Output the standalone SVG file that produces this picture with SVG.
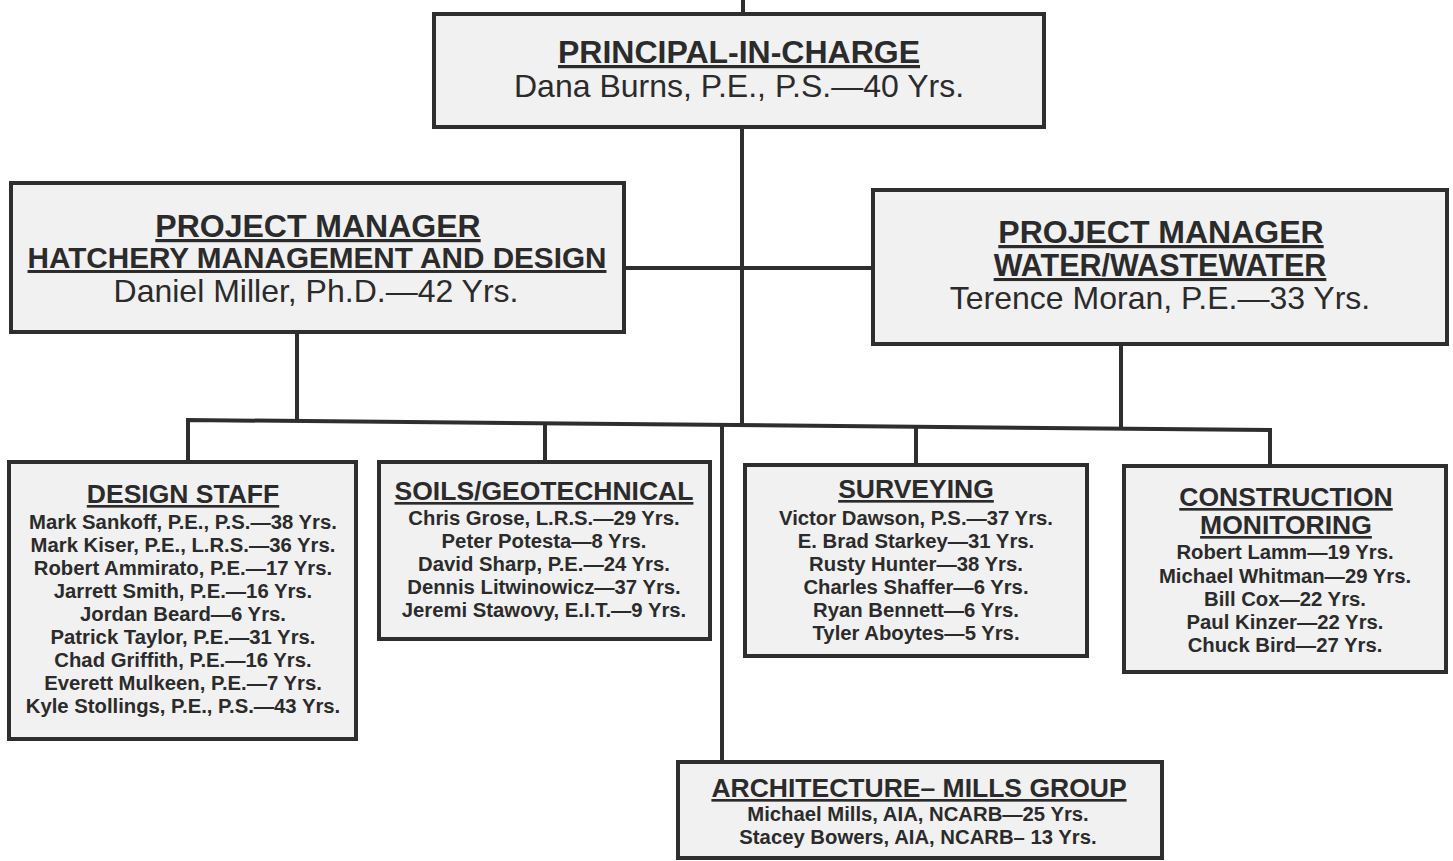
<svg xmlns="http://www.w3.org/2000/svg" width="1453" height="861" viewBox="0 0 1453 861">
<style>
.box{fill:#f1f1f1;stroke:#2e2e2e;stroke-width:4}
.ln{stroke:#2e2e2e;stroke-width:4;fill:none}
text{font-family:"Liberation Sans",Arial,sans-serif;fill:#2b2b2b;text-anchor:middle}
.h1{font-size:32px;font-weight:bold;text-decoration:underline}
.n1{font-size:32px}
.h3{font-size:26.5px;font-weight:bold;text-decoration:underline}
.s{font-size:20.3px;font-weight:bold}
</style>
<rect width="1453" height="861" fill="#ffffff"/>
<g id="connectors">
<line class="ln" x1="743" y1="0" x2="743" y2="14"/>
<line class="ln" x1="742" y1="126" x2="742" y2="426"/>
<line class="ln" x1="623" y1="268" x2="874" y2="268"/>
<line class="ln" x1="297" y1="331" x2="297" y2="421"/>
<line class="ln" x1="1121" y1="343" x2="1121" y2="428"/>
<polyline class="ln" points="188,462 188,420 1270,430 1270,466"/>
<line class="ln" x1="545" y1="422" x2="545" y2="462"/>
<line class="ln" x1="916" y1="426" x2="916" y2="465"/>
<line class="ln" x1="722" y1="424" x2="722" y2="762"/>
</g>
<g id="principal">
<rect class="box" x="434" y="14" width="610" height="113"/>
<text class="h1" x="739" y="63">PRINCIPAL-IN-CHARGE</text>
<text class="n1" x="739" y="97">Dana Burns, P.E., P.S.—40 Yrs.</text>
</g>
<g id="pm-hatchery">
<rect class="box" x="11" y="183" width="613" height="149"/>
<text class="h1" x="318" y="237">PROJECT MANAGER</text>
<text class="h1" x="317" y="268" style="font-size:29.7px">HATCHERY MANAGEMENT AND DESIGN</text>
<text class="n1" x="316" y="302">Daniel Miller, Ph.D.—42 Yrs.</text>
</g>
<g id="pm-water">
<rect class="box" x="873" y="190" width="574" height="154"/>
<text class="h1" x="1161" y="243">PROJECT MANAGER</text>
<text class="h1" x="1160" y="276" style="font-size:30.5px">WATER/WASTEWATER</text>
<text class="n1" x="1160" y="309">Terence Moran, P.E.—33 Yrs.</text>
</g>
<g id="design-staff">
<rect class="box" x="9" y="462" width="347" height="277"/>
<text class="h3" x="183" y="503">DESIGN STAFF</text>
<text class="s" x="183" y="529">Mark Sankoff, P.E., P.S.—38 Yrs.</text>
<text class="s" x="183" y="552">Mark Kiser, P.E., L.R.S.—36 Yrs.</text>
<text class="s" x="183" y="575">Robert Ammirato, P.E.—17 Yrs.</text>
<text class="s" x="183" y="598">Jarrett Smith, P.E.—16 Yrs.</text>
<text class="s" x="183" y="621">Jordan Beard—6 Yrs.</text>
<text class="s" x="183" y="644">Patrick Taylor, P.E.—31 Yrs.</text>
<text class="s" x="183" y="667">Chad Griffith, P.E.—16 Yrs.</text>
<text class="s" x="183" y="690">Everett Mulkeen, P.E.—7 Yrs.</text>
<text class="s" x="183" y="713">Kyle Stollings, P.E., P.S.—43 Yrs.</text>
</g>
<g id="soils">
<rect class="box" x="379" y="462" width="331" height="177"/>
<text class="h3" x="544" y="500">SOILS/GEOTECHNICAL</text>
<text class="s" x="544" y="525">Chris Grose, L.R.S.—29 Yrs.</text>
<text class="s" x="544" y="548">Peter Potesta—8 Yrs.</text>
<text class="s" x="544" y="571">David Sharp, P.E.—24 Yrs.</text>
<text class="s" x="544" y="594">Dennis Litwinowicz—37 Yrs.</text>
<text class="s" x="544" y="617">Jeremi Stawovy, E.I.T.—9 Yrs.</text>
</g>
<g id="surveying">
<rect class="box" x="745" y="465" width="342" height="191"/>
<text class="h3" x="916" y="498">SURVEYING</text>
<text class="s" x="916" y="525">Victor Dawson, P.S.—37 Yrs.</text>
<text class="s" x="916" y="548">E. Brad Starkey—31 Yrs.</text>
<text class="s" x="916" y="571">Rusty Hunter—38 Yrs.</text>
<text class="s" x="916" y="594">Charles Shaffer—6 Yrs.</text>
<text class="s" x="916" y="617">Ryan Bennett—6 Yrs.</text>
<text class="s" x="916" y="640">Tyler Aboytes—5 Yrs.</text>
</g>
<g id="construction">
<rect class="box" x="1124" y="466" width="322" height="206"/>
<text class="h3" x="1286" y="506">CONSTRUCTION</text>
<text class="h3" x="1286" y="534">MONITORING</text>
<text class="s" x="1285" y="559">Robert Lamm—19 Yrs.</text>
<text class="s" x="1285" y="583">Michael Whitman—29 Yrs.</text>
<text class="s" x="1285" y="606">Bill Cox—22 Yrs.</text>
<text class="s" x="1285" y="629">Paul Kinzer—22 Yrs.</text>
<text class="s" x="1285" y="652">Chuck Bird—27 Yrs.</text>
</g>
<g id="architecture">
<rect class="box" x="678" y="762" width="484" height="96"/>
<text class="h3" x="919" y="797">ARCHITECTURE– MILLS GROUP</text>
<text class="s" x="918" y="821">Michael Mills, AIA, NCARB—25 Yrs.</text>
<text class="s" x="918" y="844">Stacey Bowers, AIA, NCARB– 13 Yrs.</text>
</g>
</svg>
